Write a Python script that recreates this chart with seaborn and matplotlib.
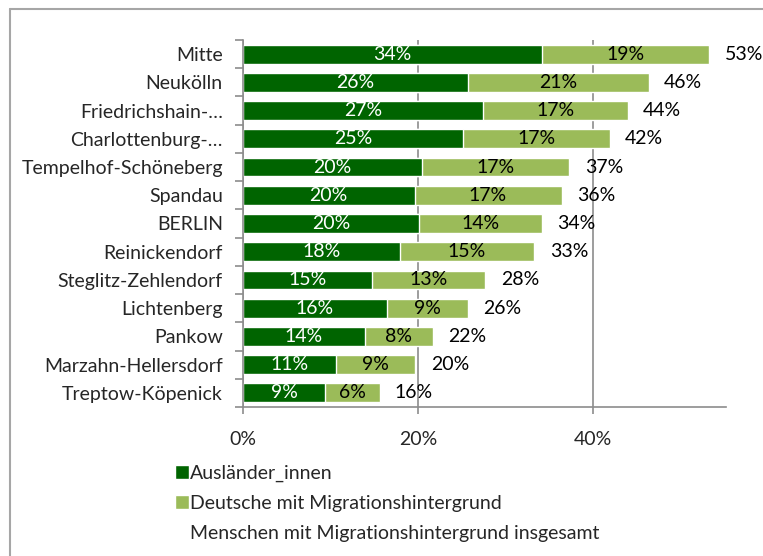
import pandas as pd
import matplotlib
matplotlib.use("Agg")
import matplotlib.pyplot as plt
from matplotlib.patches import Patch
from matplotlib.lines import Line2D
import seaborn as sns

bezirke = ["Mitte", "Neukölln", "Friedrichshain-…", "Charlottenburg-…",
           "Tempelhof-Schöneberg", "Spandau", "BERLIN", "Reinickendorf",
           "Steglitz-Zehlendorf", "Lichtenberg", "Pankow",
           "Marzahn-Hellersdorf", "Treptow-Köpenick"]
auslaender = [34.2, 25.7, 27.4, 25.1, 20.4, 19.6, 20.1, 17.9, 14.7, 16.4, 13.9, 10.6, 9.4]
deutsche_mh = [19.1, 20.7, 16.6, 16.8, 16.9, 16.8, 14.1, 15.4, 13.0, 9.3, 7.8, 9.1, 6.2]
legend_labels = ["Ausländer_innen", "Deutsche mit Migrationshintergrund",
                 "Menschen mit Migrationshintergrund insgesamt"]

df = pd.DataFrame({"bezirk": bezirke, "ausl": auslaender, "dt": deutsche_mh})
df["gesamt"] = df["ausl"] + df["dt"]

dark = "#006400"
light = "#9bbb59"
grey = "#8c8c8c"
fs = 14

sns.set_style("white")
plt.rcParams["font.family"] = ["Lato", "DejaVu Sans"]
plt.rcParams["font.size"] = fs

fig = plt.figure(figsize=(7.63, 5.56), dpi=100)
ax = fig.add_axes([243 / 763, 1 - 407 / 556, (726 - 243) / 763, (407 - 40) / 556])

# light bar = total, dark bar drawn on top
sns.barplot(data=df, y="bezirk", x="gesamt", color=light, saturation=1,
            width=0.67, orient="h", ax=ax, zorder=3)
sns.barplot(data=df, y="bezirk", x="ausl", color=dark, saturation=1,
            width=0.67, orient="h", ax=ax, zorder=4)

ax.bar_label(ax.containers[0], labels=[f"{v:.0f}%" for v in df["gesamt"]],
             padding=11, color="black", fontsize=fs, zorder=5)
ax.bar_label(ax.containers[1], labels=[f"{v:.0f}%" for v in df["ausl"]],
             label_type="center", color="white", fontsize=fs, zorder=5)
for i, row in df.iterrows():
    ax.text((row["ausl"] + row["gesamt"]) / 2, i, f"{row['dt']:.0f}%",
            ha="center", va="center", color="black", fontsize=fs, zorder=5)

ax.set_xlim(0, (726 - 243) / 8.75)
ax.set_ylim(12.5, -0.5)
ax.set_xticks([0, 20, 40])
ax.set_xticklabels(["0%", "20%", "40%"])
ax.set_xlabel("")
ax.set_ylabel("")
ax.set_yticks(range(len(bezirke)))
ax.set_yticklabels(bezirke)
ax.set_yticks([i - 0.5 for i in range(len(bezirke) + 1)], minor=True)

ax.tick_params(axis="y", which="major", length=0, pad=14.5)
ax.tick_params(axis="y", which="minor", length=5.5, width=1.2, color=grey, left=True)
ax.tick_params(axis="x", which="major", length=5, width=1.2, color=grey, bottom=True, pad=12.5)

ax.grid(axis="x", color=grey, linewidth=1.2, zorder=0)
ax.set_axisbelow(True)
for s in ["top", "right"]:
    ax.spines[s].set_visible(False)
for s in ["left", "bottom"]:
    ax.spines[s].set_color(grey)
    ax.spines[s].set_linewidth(1.2)
    ax.spines[s].set_zorder(6)

handles = [Patch(facecolor=dark), Patch(facecolor=light), Patch(facecolor="none", edgecolor="none")]
fig.legend(handles, legend_labels, loc="upper left", bbox_to_anchor=(175 / 763, 1 - 465 / 556),
           frameon=False, handlelength=0.72, handleheight=0.72, handletextpad=0.07,
           labelspacing=0.65, borderpad=0, borderaxespad=0, fontsize=fs)

# outer chart frame (only top and left visible)
fig.add_artist(Line2D([10 / 763, 1], [1 - 9 / 556, 1 - 9 / 556], color="#a6a6a6", lw=1.5))
fig.add_artist(Line2D([10 / 763, 10 / 763], [0, 1 - 9 / 556], color="#a6a6a6", lw=1.5))

fig.savefig("out.png", dpi=100)
